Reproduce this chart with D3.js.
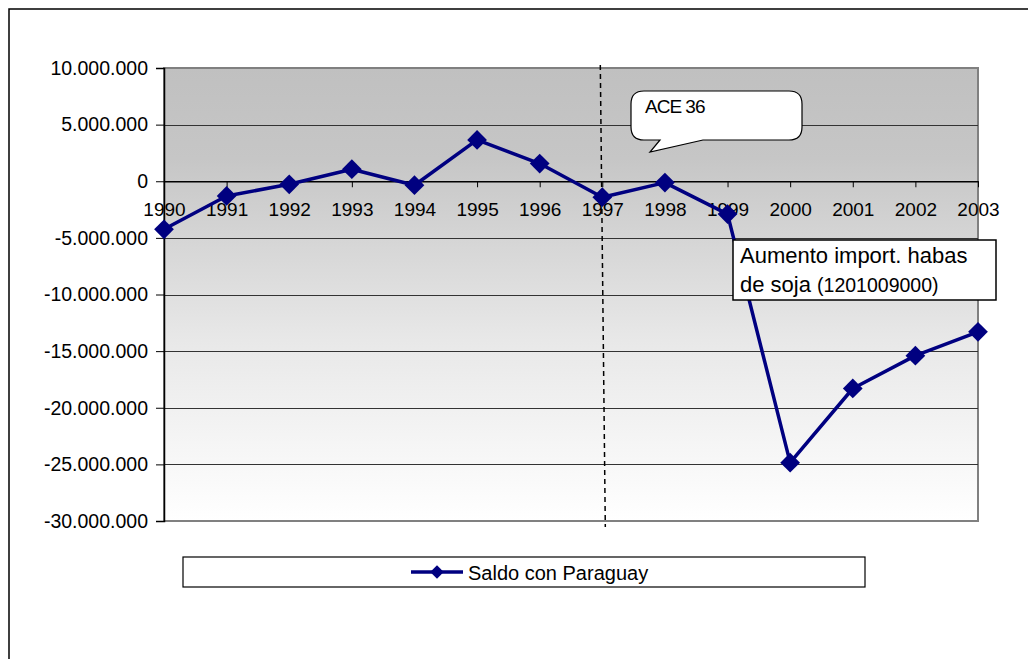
<!DOCTYPE html>
<html>
<head>
<meta charset="utf-8">
<script src="https://cdn.jsdelivr.net/npm/d3@7"></script>
<style>
  body { margin: 0; background: #fff; }
  text { font-family: "Liberation Sans", Arial, sans-serif; fill: #000; }
</style>
</head>
<body>
<div id="chart"></div>
<script>
// data
const years = ["1990", "1991", "1992", "1993", "1994", "1995", "1996",
               "1997", "1998", "1999", "2000", "2001", "2002", "2003"];
const saldo = [-4240000, -1300000, -270000, 1060000, -350000, 3650000, 1560000,
               -1410000, -120000, -2900000, -24850000, -18300000, -15400000, -13300000];
const yTicks = [10000000, 5000000, 0, -5000000, -10000000, -15000000, -20000000, -25000000, -30000000];
const seriesName = "Saldo con Paraguay";
const noteAce = "ACE 36";
const noteSoja = ["Aumento import. habas", "de soja", "(1201009000)"];

const width = 1028, height = 659;
const plot = { left: 164, right: 978, top: 68, bottom: 521 };

const svg = d3.select("#chart").append("svg")
    .attr("width", width)
    .attr("height", height);

// outer chart frame (runs off right and bottom)
svg.append("rect")
    .attr("x", 9).attr("y", 9)
    .attr("width", 1040).attr("height", 700)
    .attr("fill", "#fff")
    .attr("stroke", "#000")
    .attr("stroke-width", 1.5);

let x = d3.scalePoint().domain(years).range([plot.left, plot.right]);
let y = d3.scaleLinear().domain([-30000000, 10000000]).range([plot.bottom, plot.top]);

const fmt = d3.formatLocale({ decimal: ",", thousands: ".", grouping: [3], currency: ["", ""], minus: "-" }).format(",");

// plot background gradient
let grad = svg.append("defs").append("linearGradient")
    .attr("id", "bg").attr("x1", 0).attr("y1", 0).attr("x2", 0).attr("y2", 1);
grad.append("stop").attr("offset", "0%").attr("stop-color", "#c0c0c0");
grad.append("stop").attr("offset", "20%").attr("stop-color", "#c6c6c6");
grad.append("stop").attr("offset", "60%").attr("stop-color", "#e8e8e8");
grad.append("stop").attr("offset", "100%").attr("stop-color", "#ffffff");

svg.append("rect")
    .attr("x", plot.left).attr("y", plot.top)
    .attr("width", plot.right - plot.left).attr("height", plot.bottom - plot.top)
    .attr("fill", "url(#bg)")
    .attr("stroke", "#808080")
    .attr("stroke-width", 2);

// gridlines
svg.append("g")
    .selectAll("line")
    .data(yTicks.filter(d => d > -30000000 && d < 10000000))
    .join("line")
    .attr("x1", plot.left).attr("x2", plot.right)
    .attr("y1", d => Math.round(y(d)) + 0.5).attr("y2", d => Math.round(y(d)) + 0.5)
    .attr("stroke", "#333")
    .attr("stroke-width", 1.2);

// y axis
let yAxis = svg.append("g")
    .attr("transform", `translate(${plot.left},0)`)
    .call(d3.axisLeft(y).tickValues(yTicks).tickFormat(fmt).tickSize(8).tickPadding(8));
yAxis.select(".domain").attr("stroke", "#000").attr("stroke-width", 1.5);
yAxis.selectAll(".tick line").attr("stroke", "#000");
yAxis.selectAll("text").style("font-size", "19.5px").attr("fill", "#000");

// x axis on the zero line, labels below
let xAxis = svg.append("g")
    .attr("transform", `translate(0,${y(0)})`)
    .call(d3.axisBottom(x).tickSize(6).tickPadding(15).tickSizeOuter(0));
xAxis.select(".domain").attr("stroke", "#000").attr("stroke-width", 1.5);
xAxis.selectAll(".tick line").attr("stroke", "#000");
xAxis.selectAll("text").style("font-size", "19px").attr("fill", "#000");

// vertical dashed marker at 1997
svg.append("line")
    .attr("x1", x("1997") - 2).attr("y1", 65)
    .attr("x2", x("1997") + 3).attr("y2", 527)
    .attr("stroke", "#000")
    .attr("stroke-width", 1.5)
    .attr("stroke-dasharray", "5,4");

// series line + diamonds
let line = d3.line()
    .x((d, i) => x(years[i]))
    .y(d => y(d));

svg.append("path")
    .datum(saldo)
    .attr("d", line)
    .attr("fill", "none")
    .attr("stroke", "#000080")
    .attr("stroke-width", 3.5)
    .attr("stroke-linejoin", "round");

let diamond = d3.symbol().type(d3.symbolSquare).size(195);
svg.append("g")
    .selectAll("path")
    .data(saldo)
    .join("path")
    .attr("d", diamond)
    .attr("transform", (d, i) => `translate(${x(years[i])},${y(d)}) rotate(45)`)
    .attr("fill", "#000080");

// "ACE 36" speech bubble
(function () {
    let bx0 = 631, by0 = 91, bx1 = 802, by1 = 140, r = 13;
    let p = d3.path();
    p.moveTo(bx0 + r, by0);
    p.lineTo(bx1 - r, by0);
    p.quadraticCurveTo(bx1, by0, bx1, by0 + r);
    p.lineTo(bx1, by1 - r);
    p.quadraticCurveTo(bx1, by1, bx1 - r, by1);
    p.lineTo(703, by1);
    p.lineTo(650, 152);
    p.lineTo(660, by1);
    p.lineTo(bx0 + r, by1);
    p.quadraticCurveTo(bx0, by1, bx0, by1 - r);
    p.lineTo(bx0, by0 + r);
    p.quadraticCurveTo(bx0, by0, bx0 + r, by0);
    p.closePath();
    svg.append("path")
        .attr("d", p.toString())
        .attr("fill", "#fff")
        .attr("stroke", "#000")
        .attr("stroke-width", 1.2);
    svg.append("text")
        .attr("x", 645).attr("y", 113)
        .style("font-size", "19px")
        .style("letter-spacing", "-1px")
        .text(noteAce);
})();

// soy beans note
svg.append("rect")
    .attr("x", 733).attr("y", 240)
    .attr("width", 263).attr("height", 60)
    .attr("fill", "#fff")
    .attr("stroke", "#000")
    .attr("stroke-width", 1.5);
svg.append("text")
    .attr("x", 740).attr("y", 263)
    .style("font-size", "22px")
    .text(noteSoja[0]);
let t2 = svg.append("text")
    .attr("x", 740).attr("y", 292)
    .style("font-size", "22px");
t2.append("tspan").text(noteSoja[1] + " ");
t2.append("tspan").style("font-size", "19.5px").text(noteSoja[2]);

// legend
let lg = svg.append("g");
lg.append("rect")
    .attr("x", 183).attr("y", 557)
    .attr("width", 682).attr("height", 30)
    .attr("fill", "#fff")
    .attr("stroke", "#000")
    .attr("stroke-width", 1.2);
lg.append("line")
    .attr("x1", 411).attr("x2", 463)
    .attr("y1", 572).attr("y2", 572)
    .attr("stroke", "#000080")
    .attr("stroke-width", 3.5);
lg.append("path")
    .attr("d", d3.symbol().type(d3.symbolSquare).size(90))
    .attr("transform", "translate(437,572) rotate(45)")
    .attr("fill", "#000080");
lg.append("text")
    .attr("x", 468).attr("y", 580)
    .style("font-size", "20px")
    .text(seriesName);
</script>
</body>
</html>
